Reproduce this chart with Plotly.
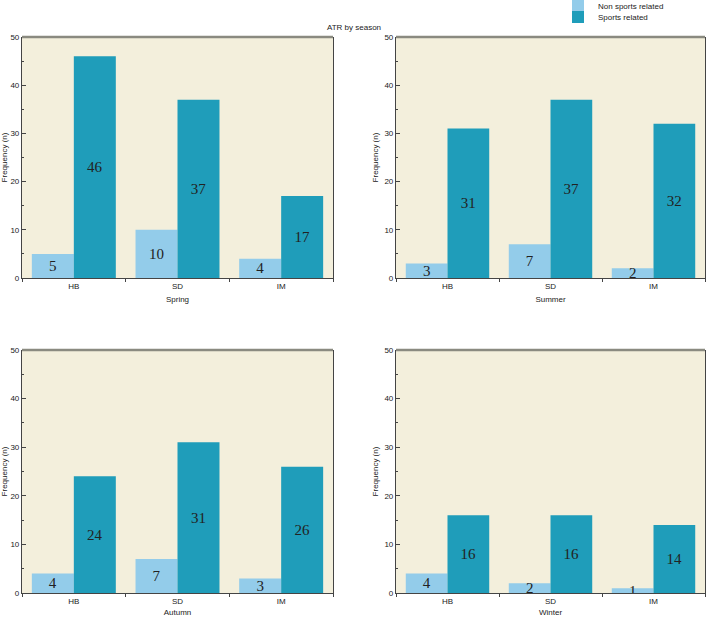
import plotly.graph_objects as go
from plotly.subplots import make_subplots

categories = ["HB", "SD", "IM"]
seasons = ["Spring", "Summer", "Autumn", "Winter"]
non_sports = {
    "Spring": [5, 10, 4],
    "Summer": [3, 7, 2],
    "Autumn": [4, 7, 3],
    "Winter": [4, 2, 1],
}
sports = {
    "Spring": [46, 37, 17],
    "Summer": [31, 37, 32],
    "Autumn": [24, 31, 26],
    "Winter": [16, 16, 14],
}
series_names = ["Non sports related", "Sports related"]

W, H = 708, 617
LIGHT = "#93CCEA"
DARK = "#1F9DBA"
BG = "#F3EFDC"
AX = "#444444"
FONT = "Liberation Sans, Arial, sans-serif"
SERIF = "Liberation Serif, Times New Roman, serif"

fig = make_subplots(rows=2, cols=2)

xdom = [[22 / W, 333 / W], [396 / W, 705 / W]]
ydom = [[1 - 278 / H, 1 - 37 / H], [1 - 593 / H, 1 - 350 / H]]

for i, s in enumerate(seasons):
    r, c = i // 2 + 1, i % 2 + 1
    show = i == 0
    for k, (name, vals, col) in enumerate([
        (series_names[0], non_sports[s], LIGHT),
        (series_names[1], sports[s], DARK),
    ]):
        fig.add_trace(
            go.Bar(
                x=categories, y=vals, name=name, marker_color=col,
                marker_line_width=0, showlegend=show, legendgroup=name,
                legend="legend" if k == 0 else "legend2",
                text=[str(v) for v in vals], textposition="inside",
                insidetextanchor="middle", constraintext="none",
                textfont=dict(family=SERIF, size=15, color="#222222"),
                textangle=0,
            ),
            row=r, col=c,
        )
    axn = "" if i == 0 else str(i + 1)
    fig.layout["xaxis" + axn].update(
        domain=xdom[c - 1], range=[-0.5, 2.5], tickson="boundaries",
        ticks="outside", ticklen=3, tickcolor=AX, showline=True,
        linecolor=AX, linewidth=1.2, mirror=False, automargin=False,
        tickfont=dict(family=FONT, size=8, color="#222"),
        title=dict(text=s, font=dict(family=FONT, size=8, color="#222"), standoff=6),
        showgrid=False, zeroline=False,
    )
    fig.layout["yaxis" + axn].update(
        domain=ydom[r - 1], range=[0, 50], dtick=10, ticks="inside",
        ticklen=4, tickcolor=AX, showline=True, linecolor=AX,
        linewidth=1.2, mirror=True, showgrid=False, zeroline=False,
        automargin=False,
        minor=dict(dtick=5, ticks="inside", ticklen=2, tickcolor=AX, showgrid=False),
        tickfont=dict(family=FONT, size=8, color="#222"),
        title=dict(text="Frequency (n)", font=dict(family=FONT, size=8, color="#222"), standoff=4),
    )
    fig.add_shape(
        type="line", xref=f"x{axn} domain", yref=f"y{axn} domain",
        x0=0, x1=1, y0=1, y1=1, line=dict(color="#8a8a80", width=2.5),
    )

leg_common = dict(xanchor="left", yanchor="middle",
                  font=dict(family=FONT, size=8, color="#222"),
                  itemwidth=30, bgcolor="rgba(0,0,0,0)")
fig.update_layout(
    width=W, height=H, margin=dict(l=0, r=0, t=0, b=0, autoexpand=False),
    barmode="group", bargap=0.19, bargroupgap=0,
    plot_bgcolor=BG, paper_bgcolor="white",
    font=dict(family=FONT, size=8, color="#222"),
    title=dict(text="ATR by season", x=0.5, xanchor="center", y=1 - 27 / H,
               yanchor="middle", font=dict(family=FONT, size=8, color="#222")),
    legend=dict(x=558 / W, y=1 - 6 / H, **leg_common),
    legend2=dict(x=558 / W, y=1 - 17 / H, **leg_common),
)

fig.write_html("out.html")
